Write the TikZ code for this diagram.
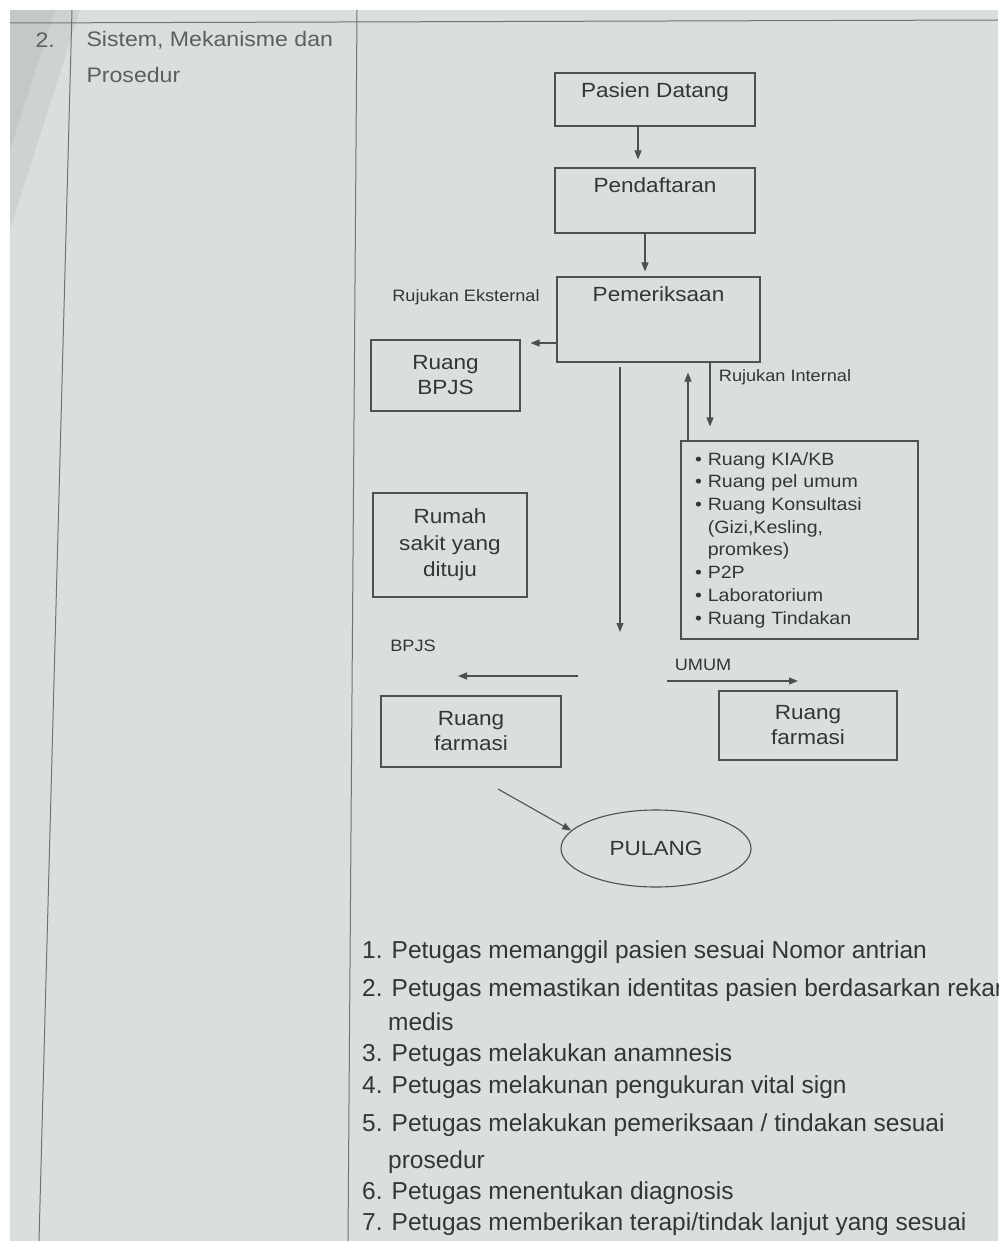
\documentclass[tikz,border=0pt]{standalone}
\usepackage{fontspec}
\setmainfont{Liberation Sans}
\newfontfamily\bagan{Liberation Sans}[FakeStretch=1.1]
\usetikzlibrary{arrows.meta, shapes.geometric, positioning}
\definecolor{kertas}{RGB}{216,223,222}
\definecolor{tinta}{RGB}{52,54,54}
\definecolor{garis}{RGB}{78,80,80}

\begin{document}
\begin{tikzpicture}[x=1pt, y=-1pt,
    kotak/.style={draw=garis, line width=1.1pt, rectangle, inner sep=0pt, align=center,
        text=tinta, font=\bagan\fontsize{20.5}{25}\selectfont},
    judul/.style={anchor=north, inner sep=0pt, yshift=-10pt, text=tinta,
        font=\bagan\fontsize{20.5}{25}\selectfont},
    panah/.style={draw=garis, line width=1.1pt, -{Triangle[length=9pt,width=7pt]}},
    ket/.style={text=tinta, font=\bagan\fontsize{16.5}{19}\selectfont},
    langkah/.style={anchor=base west, inner sep=0pt, text=tinta, font=\fontsize{24.5}{28}\selectfont}]
    \useasboundingbox (0,0) rectangle (998,1241);
    \fill[white] (0,0) rectangle (998,1241);
    \fill[kertas] (10,10) rectangle (998,1241);
    % shadow in the corner
    \fill[gray, opacity=0.12] (10,10) -- (80,10) -- (10,230) -- cycle;
    \fill[gray, opacity=0.12] (10,10) -- (55,10) -- (10,150) -- cycle;

    % table lines
    \draw[garis!80, line width=1pt] (10,23) -- (998,20);
    \draw[garis!80, line width=1pt] (72,10) -- (39,1241);
    \draw[garis!80, line width=1pt] (357,10) -- (348,1241);
    \node[anchor=west, text=tinta!80, font=\bagan\fontsize{21}{24}\selectfont] (nomor) at (32,40) {2.};
    \node[anchor=west, text=tinta!80, font=\bagan\fontsize{21}{24}\selectfont] (bagian) at (83,40) {Sistem, Mekanisme dan};
    \node[anchor=west, text=tinta!80, font=\bagan\fontsize{21}{24}\selectfont] (bagian2) at (83,75) {Prosedur};

    % flow boxes
    \node[kotak, minimum width=200pt, minimum height=53pt, label={[judul]north:Pasien Datang}] (datang) at (655,99.5) {};
    \node[kotak, minimum width=200pt, minimum height=65pt, label={[judul]north:Pendaftaran}] (daftar) at (655,200.5) {};
    \node[kotak, minimum width=203pt, minimum height=85pt, label={[judul]north:Pemeriksaan}] (periksa) at (658.5,319.5) {};
    \node[kotak, minimum width=149pt, minimum height=71pt] (bpjs) at (445.5,375.5) {Ruang\\BPJS};
    \node[kotak, minimum width=154pt, minimum height=104pt, font=\bagan\fontsize{20.5}{26.5}\selectfont] (rumahsakit) at (450,545) {Rumah\\sakit yang\\dituju};
    \node[kotak, minimum width=237pt, minimum height=198pt, text width=209pt, align=left,
        font=\bagan\fontsize{17.8}{22.7}\selectfont] (layanan) at (799.5,540)
        {• Ruang KIA/KB\\
         • Ruang pel umum\\
         • Ruang Konsultasi\\
         \phantom{• }(Gizi,Kesling,\\
         \phantom{• }promkes)\\
         • P2P\\
         • Laboratorium\\
         • Ruang Tindakan};
    \node[kotak, minimum width=180pt, minimum height=71pt] (farmasikiri) at (471,731.5) {Ruang\\farmasi};
    \node[kotak, minimum width=178pt, minimum height=69pt] (farmasikanan) at (808,725.5) {Ruang\\farmasi};
    \node[kotak, ellipse, minimum width=190pt, minimum height=77pt] (pulang) at (656,848.5) {PULANG};

    % labels
    \node[ket] (lblekst) at (466,297) {Rujukan Eksternal};
    \node[ket] (lblint) at (785,377) {Rujukan Internal};
    \node[ket] (lblbpjs) at (413,646) {BPJS};
    \node[ket] (lblumum) at (703,665) {UMUM};

    % arrows
    \draw[panah, shorten >=8pt] ([xshift=-17pt]datang.south) -- ([xshift=-17pt]daftar.north);
    \coordinate (turun1) at ([xshift=-10pt]daftar.south);
    \draw[panah, shorten >=5pt] (turun1) -- (turun1 |- periksa.north);
    \coordinate (ekst) at ([yshift=-23.5pt]periksa.west);
    \draw[panah, shorten >=10pt] (ekst) -- (ekst -| bpjs.east);
    \coordinate (cabang) at (620,632);
    \draw[panah, shorten <=4pt] (periksa.south -| cabang) -- (cabang);
    \coordinate (naik) at ([xshift=-111.5pt]layanan.north);
    \draw[panah, shorten >=10pt] (naik) -- (naik |- periksa.south);
    \coordinate (turun2) at ([xshift=51.5pt]periksa.south);
    \draw[panah, shorten >=14pt] (turun2) -- (turun2 |- layanan.north);
    \coordinate (kiri) at (578,676);
    \coordinate (kiriujung) at (458,676);
    \draw[panah] (kiri) -- (kiriujung);
    \coordinate (kanan) at (667,681);
    \coordinate (kananujung) at (798,681);
    \draw[panah] (kanan) -- (kananujung);
    \coordinate (keluar) at (498,789);
    \draw[panah] (keluar) -- (pulang.168);

    % steps
    \node[langkah] (s1) at (362,958) {1. Petugas memanggil pasien sesuai Nomor antrian};
    \node[langkah] (s2) at (362,996) {2. Petugas memastikan identitas pasien berdasarkan rekam};
    \node[langkah] (s2b) at (388,1030) {medis};
    \node[langkah] (s3) at (362,1061) {3. Petugas melakukan anamnesis};
    \node[langkah] (s4) at (362,1093) {4. Petugas melakunan pengukuran vital sign};
    \node[langkah] (s5) at (362,1131) {5. Petugas melakukan pemeriksaan / tindakan sesuai};
    \node[langkah] (s5b) at (388,1168) {prosedur};
    \node[langkah] (s6) at (362,1199) {6. Petugas menentukan diagnosis};
    \node[langkah] (s7) at (362,1230) {7. Petugas memberikan terapi/tindak lanjut yang sesuai};
\end{tikzpicture}
\end{document}
